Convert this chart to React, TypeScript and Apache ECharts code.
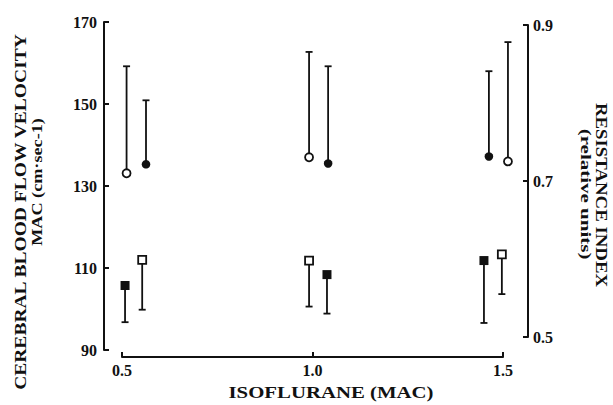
import React, { useEffect, useRef } from "react";
import * as echarts from "echarts";

// Isoflurane MAC ticks
const macTicks = [0.5, 1.0, 1.5];

// Velocity (left axis) – open circles
const openCircleX = [0.512, 0.991, 1.513];
const openCircleMean = [133.1, 137.0, 136.0];
const openCircleUpper = [159.2, 162.7, 165.1];

// Velocity (left axis) – filled circles
const filledCircleX = [0.563, 1.041, 1.463];
const filledCircleMean = [135.3, 135.5, 137.2];
const filledCircleUpper = [150.9, 159.2, 158.0];

// Resistance index (right axis) – filled squares
const filledSquareX = [0.508, 1.038, 1.45];
const filledSquareMean = [0.566, 0.58, 0.598];
const filledSquareLower = [0.519, 0.53, 0.518];

// Resistance index (right axis) – open squares
const openSquareX = [0.553, 0.991, 1.497];
const openSquareMean = [0.599, 0.598, 0.606];
const openSquareLower = [0.535, 0.539, 0.555];

const INK = "#111";
const FONT = "'Liberation Serif', 'Times New Roman', serif";

function zip3(a: number[], b: number[], c: number[]) {
  return a.map((v, i) => [v, b[i], c[i]]);
}

function errorBarRender(params: any, api: any) {
  const x = api.value(0);
  const y = api.value(1);
  const end = api.value(2);
  const p = api.coord([x, y]);
  const e = api.coord([x, end]);
  const style = { stroke: INK, lineWidth: 1.8 };
  return {
    type: "group",
    children: [
      { type: "line", shape: { x1: p[0], y1: p[1], x2: e[0], y2: e[1] }, style },
      { type: "line", shape: { x1: e[0] - 3.5, y1: e[1], x2: e[0] + 3.5, y2: e[1] }, style },
    ],
  };
}

export default function App() {
  const ref = useRef<HTMLDivElement>(null);
  useEffect(() => {
    if (!ref.current) return;
    const chart = echarts.init(ref.current, null, { renderer: "svg" });
    const axisLine = { show: true, lineStyle: { color: INK, width: 2 } };
    const axisTick = { show: true, inside: true, length: 5, lineStyle: { color: INK, width: 2 } };
    const labelStyle = { color: INK, fontFamily: FONT, fontWeight: "bold" as const, fontSize: 16 };
    const option: any = {
      animation: false,
      backgroundColor: "#fff",
      grid: [
        { left: 122, right: 110, top: 22, bottom: 55, outerBoundsMode: "none", containLabel: false },
        { left: 122, right: 110, top: 25, bottom: 68, outerBoundsMode: "none", containLabel: false },
      ],
      xAxis: [
        {
          type: "value",
          gridIndex: 0,
          min: 0.5,
          max: 1.5,
          interval: 0.5,
          offset: 7,
          axisLine,
          axisTick,
          splitLine: { show: false },
          axisLabel: {
            ...labelStyle,
            margin: 5,
            customValues: macTicks,
            formatter: (v: number) => v.toFixed(1),
          },
        },
        { type: "value", gridIndex: 1, min: 0.5, max: 1.5, show: false },
      ],
      yAxis: [
        {
          type: "value",
          gridIndex: 0,
          position: "left",
          min: 90,
          max: 170,
          interval: 20,
          offset: 18,
          axisLine,
          axisTick,
          splitLine: { show: false },
          axisLabel: { ...labelStyle, margin: 7 },
        },
        {
          type: "value",
          gridIndex: 1,
          position: "right",
          min: 0.5,
          max: 0.9,
          interval: 0.2,
          offset: 25,
          axisLine,
          axisTick,
          splitLine: { show: false },
          axisLabel: { ...labelStyle, margin: 5, formatter: (v: number) => v.toFixed(1) },
        },
      ],
      series: [
        {
          type: "custom",
          xAxisIndex: 0,
          yAxisIndex: 0,
          clip: false,
          renderItem: errorBarRender,
          data: zip3(openCircleX, openCircleMean, openCircleUpper),
          z: 2,
        },
        {
          type: "custom",
          xAxisIndex: 0,
          yAxisIndex: 0,
          clip: false,
          renderItem: errorBarRender,
          data: zip3(filledCircleX, filledCircleMean, filledCircleUpper),
          z: 2,
        },
        {
          type: "custom",
          xAxisIndex: 1,
          yAxisIndex: 1,
          clip: false,
          renderItem: errorBarRender,
          data: zip3(filledSquareX, filledSquareMean, filledSquareLower),
          z: 2,
        },
        {
          type: "custom",
          xAxisIndex: 1,
          yAxisIndex: 1,
          clip: false,
          renderItem: errorBarRender,
          data: zip3(openSquareX, openSquareMean, openSquareLower),
          z: 2,
        },
        {
          type: "scatter",
          xAxisIndex: 0,
          yAxisIndex: 0,
          symbol: "circle",
          symbolSize: 8,
          clip: false,
          itemStyle: { color: "#fff", borderColor: INK, borderWidth: 1.8, opacity: 1 },
          data: openCircleX.map((x, i) => [x, openCircleMean[i]]),
          z: 3,
        },
        {
          type: "scatter",
          xAxisIndex: 0,
          yAxisIndex: 0,
          symbol: "circle",
          symbolSize: 8.5,
          clip: false,
          itemStyle: { color: INK, opacity: 1 },
          data: filledCircleX.map((x, i) => [x, filledCircleMean[i]]),
          z: 3,
        },
        {
          type: "scatter",
          xAxisIndex: 1,
          yAxisIndex: 1,
          symbol: "rect",
          symbolSize: 9,
          clip: false,
          itemStyle: { color: INK, opacity: 1 },
          data: filledSquareX.map((x, i) => [x, filledSquareMean[i]]),
          z: 3,
        },
        {
          type: "scatter",
          xAxisIndex: 1,
          yAxisIndex: 1,
          symbol: "rect",
          symbolSize: 8,
          clip: false,
          itemStyle: { color: "#fff", borderColor: INK, borderWidth: 1.8, opacity: 1 },
          data: openSquareX.map((x, i) => [x, openSquareMean[i]]),
          z: 3,
        },
      ],
      graphic: [
        {
          type: "text",
          x: 20,
          y: 212,
          rotation: Math.PI / 2,
          scaleX: 1.15,
          style: {
            text: "CEREBRAL BLOOD FLOW VELOCITY",
            font: `bold 17px ${FONT}`,
            fill: INK,
            textAlign: "center",
            textVerticalAlign: "middle",
          },
        },
        {
          type: "text",
          x: 38,
          y: 182,
          rotation: Math.PI / 2,
          scaleX: 1.3,
          style: {
            text: "MAC (cm·sec-1)",
            font: `bold 14px ${FONT}`,
            fill: INK,
            textAlign: "center",
            textVerticalAlign: "middle",
          },
        },
        {
          type: "text",
          x: 602,
          y: 195,
          rotation: -Math.PI / 2,
          scaleX: 1.14,
          style: {
            text: "RESISTANCE INDEX",
            font: `bold 16.5px ${FONT}`,
            fill: INK,
            textAlign: "center",
            textVerticalAlign: "middle",
          },
        },
        {
          type: "text",
          x: 586,
          y: 194,
          rotation: -Math.PI / 2,
          scaleX: 1.5,
          style: {
            text: "(relative units)",
            font: `bold 14px ${FONT}`,
            fill: INK,
            textAlign: "center",
            textVerticalAlign: "middle",
          },
        },
        {
          type: "text",
          x: 331,
          y: 392,
          scaleX: 1.3,
          style: {
            text: "ISOFLURANE (MAC)",
            font: `bold 16px ${FONT}`,
            fill: INK,
            textAlign: "center",
            textVerticalAlign: "middle",
          },
        },
      ],
    };
    chart.setOption(option);
    return () => chart.dispose();
  }, []);
  return (
    <div
      ref={ref}
      style={{ position: "fixed", left: 0, top: 0, width: 613, height: 405, background: "#fff" }}
    />
  );
}
